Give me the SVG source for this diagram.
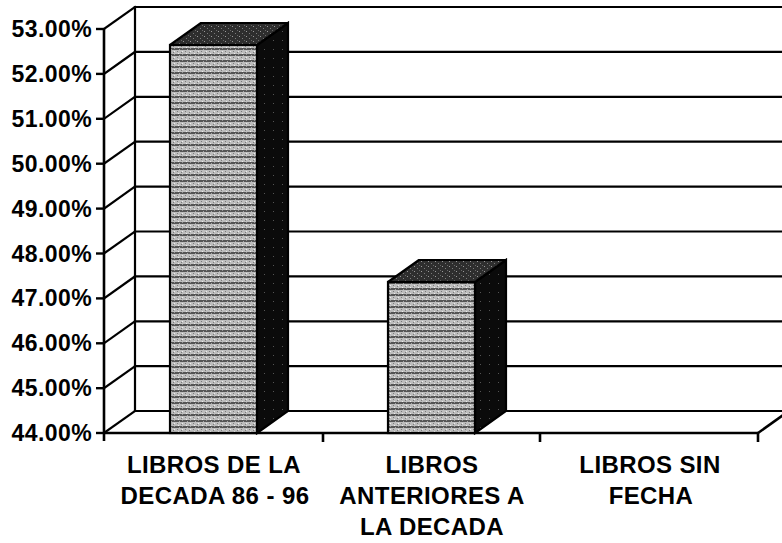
<svg xmlns="http://www.w3.org/2000/svg" width="782" height="543" viewBox="0 0 782 543">
<defs>
<style>
.g{stroke:#000;stroke-width:2.2;fill:none;stroke-linecap:square}
.ax{stroke:#000;stroke-width:2.6;fill:none}
.yl{font-family:"Liberation Sans",Arial,sans-serif;font-weight:bold;font-size:23px;letter-spacing:0.4px;text-anchor:end;fill:#000}
.cl{font-family:"Liberation Sans",Arial,sans-serif;font-weight:bold;font-size:24px;letter-spacing:0.4px;text-anchor:middle;fill:#000}
.front{fill:url(#pf);stroke:#000;stroke-width:2.2}
.top{fill:url(#pt);stroke:#000;stroke-width:2.2;stroke-linejoin:round}
.side{fill:url(#ps);stroke:#000;stroke-width:2.2}
</style>
<pattern id="pf" width="8" height="6" patternUnits="userSpaceOnUse">
<rect width="8" height="6" fill="#bdbdbd"/>
<rect y="0" width="8" height="2" fill="#555"/>
<rect x="1" y="3" width="1" height="1" fill="#7a7a7a"/>
<rect x="5" y="4" width="1" height="1" fill="#7a7a7a"/>
<rect x="3" y="1" width="1" height="1" fill="#aaa"/>
<rect x="6" y="0" width="1" height="1" fill="#999"/>
<rect x="2" y="5" width="1" height="1" fill="#eee"/>
<rect x="6" y="3" width="1" height="1" fill="#eee"/>
</pattern>
<pattern id="pt" width="7" height="5" patternUnits="userSpaceOnUse">
<rect width="7" height="5" fill="#2e2e2e"/>
<rect x="1" y="1" width="1" height="1" fill="#9a9a9a"/>
<rect x="4" y="3" width="1" height="1" fill="#7a7a7a"/>
<rect x="6" y="0" width="1" height="1" fill="#666"/>
</pattern>
<pattern id="ps" width="9" height="9" patternUnits="userSpaceOnUse">
<rect width="9" height="9" fill="#0b0b0b"/>
<rect x="3" y="4" width="1" height="1" fill="#555"/>
</pattern>
</defs>
<rect width="782" height="543" fill="#fff"/>

<g id="gridlines">
<line class="g" x1="135" y1="7" x2="782" y2="7"/>
<line class="g" x1="135" y1="51.9" x2="782" y2="51.9"/>
<line class="g" x1="135" y1="96.8" x2="782" y2="96.8"/>
<line class="g" x1="135" y1="141.7" x2="782" y2="141.7"/>
<line class="g" x1="135" y1="186.6" x2="782" y2="186.6"/>
<line class="g" x1="135" y1="231.5" x2="782" y2="231.5"/>
<line class="g" x1="135" y1="276.4" x2="782" y2="276.4"/>
<line class="g" x1="135" y1="321.3" x2="782" y2="321.3"/>
<line class="g" x1="135" y1="366.2" x2="782" y2="366.2"/>
<line class="g" x1="135" y1="411" x2="782" y2="411"/>
<line class="g" x1="104" y1="29" x2="135" y2="7"/>
<line class="g" x1="104" y1="73.9" x2="135" y2="51.9"/>
<line class="g" x1="104" y1="118.8" x2="135" y2="96.8"/>
<line class="g" x1="104" y1="163.7" x2="135" y2="141.7"/>
<line class="g" x1="104" y1="208.6" x2="135" y2="186.6"/>
<line class="g" x1="104" y1="253.5" x2="135" y2="231.5"/>
<line class="g" x1="104" y1="298.4" x2="135" y2="276.4"/>
<line class="g" x1="104" y1="343.3" x2="135" y2="321.3"/>
<line class="g" x1="104" y1="388.2" x2="135" y2="366.2"/>
<line class="g" x1="104" y1="433" x2="135" y2="411"/>
<line class="g" x1="135" y1="7" x2="135" y2="411"/>
</g>

<g id="axes">
<line class="ax" x1="104" y1="28" x2="104" y2="441"/>
<line class="ax" x1="104" y1="433" x2="758" y2="433"/>
<line class="ax" x1="758" y1="433" x2="789" y2="411"/>
<line class="ax" x1="323" y1="433" x2="323" y2="442"/>
<line class="ax" x1="540" y1="433" x2="540" y2="442"/>
<line class="ax" x1="758" y1="433" x2="758" y2="442"/>
<g stroke="#000" stroke-width="2.4">
<line x1="96" y1="29" x2="104" y2="29"/>
<line x1="96" y1="73.9" x2="104" y2="73.9"/>
<line x1="96" y1="118.8" x2="104" y2="118.8"/>
<line x1="96" y1="163.7" x2="104" y2="163.7"/>
<line x1="96" y1="208.6" x2="104" y2="208.6"/>
<line x1="96" y1="253.5" x2="104" y2="253.5"/>
<line x1="96" y1="298.4" x2="104" y2="298.4"/>
<line x1="96" y1="343.3" x2="104" y2="343.3"/>
<line x1="96" y1="388.2" x2="104" y2="388.2"/>
<line x1="96" y1="433" x2="104" y2="433"/>
</g>
</g>

<g id="bar-decada-86-96">
<polygon class="side" points="257,45 288,23 288,411 257,433"/>
<polygon class="top" points="170,45 201,23 288,23 257,45"/>
<rect class="front" x="170" y="45" width="87" height="388"/>
</g>

<g id="bar-anteriores">
<polygon class="side" points="475,282 506,260 506,411 475,433"/>
<polygon class="top" points="388,282 419,260 506,260 475,282"/>
<rect class="front" x="388" y="282" width="87" height="151"/>
</g>

<g id="y-labels">
<text class="yl" x="92" y="37">53.00%</text>
<text class="yl" x="92" y="81.9">52.00%</text>
<text class="yl" x="92" y="126.8">51.00%</text>
<text class="yl" x="92" y="171.7">50.00%</text>
<text class="yl" x="92" y="216.6">49.00%</text>
<text class="yl" x="92" y="261.5">48.00%</text>
<text class="yl" x="92" y="306.4">47.00%</text>
<text class="yl" x="92" y="351.3">46.00%</text>
<text class="yl" x="92" y="396.2">45.00%</text>
<text class="yl" x="92" y="441">44.00%</text>
</g>

<g id="category-labels">
<text class="cl" x="214" y="473">LIBROS DE LA</text>
<text class="cl" x="215" y="504">DECADA 86 - 96</text>
<text class="cl" x="432" y="473">LIBROS</text>
<text class="cl" x="432" y="504">ANTERIORES A</text>
<text class="cl" x="432" y="535">LA DECADA</text>
<text class="cl" x="650" y="473">LIBROS SIN</text>
<text class="cl" x="651" y="504">FECHA</text>
</g>
</svg>
